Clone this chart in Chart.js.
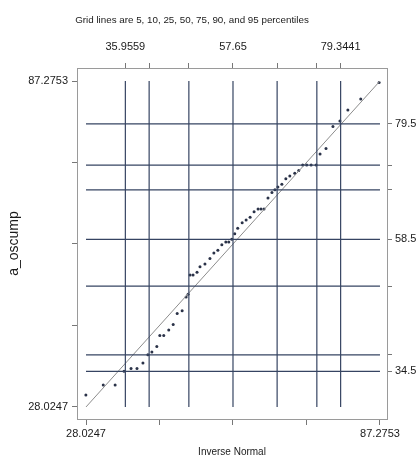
<!DOCTYPE html>
<html>
<head>
<meta charset="utf-8">
<script src="https://cdn.jsdelivr.net/npm/chart.js@4"></script>
<style>
  html, body { margin: 0; padding: 0; background: #fff; }
  #wrap { width: 418px; height: 457px; }
</style>
</head>
<body>
<div id="wrap"><canvas id="qq"></canvas></div>
<script>
// data range (min / max shown on the bottom and left axes)
const RANGE = [28.0247, 87.2753];
const EDGE_TICKS = [28.0247, 42.8374, 57.65, 72.4626, 87.2753];
const EDGE_LABELS = ['28.0247', '', '', '', '87.2753'];

// normal percentiles 5,10,25,50,75,90,95 (top axis)
const NORM_PCT = [35.9559, 40.75, 48.755, 57.65, 66.545, 74.55, 79.3441];
const NORM_LABELS = ['35.9559', '', '', '57.65', '', '', '79.3441'];

// data percentiles (right axis)
const DATA_PCT = [34.5, 37.5, 50, 58.5, 67.5, 72, 79.5];
const DATA_LABELS = ['34.5', '', '', '58.5', '', '', '79.5'];

// inverse normal (x) vs sorted a_oscump (y)
const INV_NORMAL = [28.0, 31.5, 33.9, 35.7, 37.1, 38.3, 39.5, 40.5, 41.3, 42.3,
  42.9, 43.7, 44.7, 45.6, 46.4, 47.4, 48.2, 48.6, 49.0, 49.6,
  50.4, 51.0, 52.0, 53.0, 53.8, 54.6, 55.4, 56.2, 56.8, 57.4,
  58.0, 58.6, 59.5, 60.3, 61.1, 61.9, 62.7, 63.3, 63.9, 64.7,
  65.5, 66.1, 66.7, 67.5, 68.3, 69.1, 70.1, 70.9, 71.7, 72.5,
  73.4, 74.4, 75.2, 76.4, 77.8, 79.2, 80.8, 83.4, 87.1];
const A_OSCUMP = [30.2, 32, 32, 34.5, 35, 35, 36, 37.5, 38, 39,
  41, 41, 42, 43, 45, 45.5, 48, 48.5, 52, 52,
  52.5, 53.5, 54, 55, 56, 56.5, 57.5, 58, 58, 58.5,
  59.5, 60.5, 61.5, 62, 62.5, 63.5, 64, 64, 64, 66,
  67, 67.5, 68, 68.5, 69.5, 70, 70.5, 71, 72, 72,
  72, 72, 74, 75, 79, 80, 82, 84, 87];

const GRID_COLOR = '#364462';
const FONT = '"Liberation Sans", Arial, sans-serif';

const datasets = [];
NORM_PCT.forEach(p => datasets.push({
  data: [{x: p, y: RANGE[0]}, {x: p, y: RANGE[1]}],
  showLine: true, pointRadius: 0, borderColor: GRID_COLOR, borderWidth: 1.2
}));
DATA_PCT.forEach(p => datasets.push({
  data: [{x: RANGE[0], y: p}, {x: RANGE[1], y: p}],
  showLine: true, pointRadius: 0, borderColor: GRID_COLOR, borderWidth: 1.2
}));
datasets.push({
  data: [{x: RANGE[0], y: RANGE[0]}, {x: RANGE[1], y: RANGE[1]}],
  showLine: true, pointRadius: 0, borderColor: '#8c8c8c', borderWidth: 1
});
datasets.push({
  data: INV_NORMAL.map((x, i) => ({x, y: A_OSCUMP[i]})),
  pointRadius: 1.5, pointBackgroundColor: '#2a3248', pointBorderWidth: 0
});

// header text above the plot
const headerText = {
  id: 'headerText',
  afterDraw(chart) {
    const {ctx} = chart;
    ctx.save();
    ctx.fillStyle = '#1a1a1a';
    ctx.font = '9.8px ' + FONT;
    ctx.textAlign = 'center';
    ctx.textBaseline = 'middle';
    ctx.fillText('Grid lines are 5, 10, 25, 50, 75, 90, and 95 percentiles', 192, 20);
    ctx.restore();
  }
};

function axis(position, min, max, values, labels, extra) {
  return Object.assign({
    type: 'linear', position, min, max,
    afterBuildTicks: s => { s.ticks = values.map(v => ({value: v})); },
    ticks: {
      autoSkip: false, maxRotation: 0, color: '#1a1a1a',
      font: {family: FONT, size: 11},
      callback: (v, i) => labels[i]
    },
    grid: {drawOnChartArea: false, drawTicks: true, tickLength: 5, color: '#777'},
    border: {display: true, color: '#9a9a9a', width: 1}
  }, extra);
}

const XMIN = 26.21, XMAX = 88.69, YMIN = 25.84, YMAX = 89.64;

const scales = {
  x: axis('bottom', XMIN, XMAX, EDGE_TICKS, EDGE_LABELS, {
    title: {display: true, text: 'Inverse Normal', color: '#1a1a1a',
      font: {family: FONT, size: 10, lineHeight: 1}, padding: 0},
    afterFit: s => { s.height = 38; }
  }),
  x2: axis('top', XMIN, XMAX, NORM_PCT, NORM_LABELS, {
    afterFit: s => { s.height = 36; }
  }),
  y: axis('left', YMIN, YMAX, EDGE_TICKS, EDGE_LABELS, {
    title: {display: true, text: 'a_oscump', color: '#1a1a1a',
      font: {family: FONT, size: 14, lineHeight: 1}, padding: {top: 7, bottom: 0}},
    afterFit: s => { s.width = 77; }
  }),
  y2: axis('right', YMIN, YMAX, DATA_PCT, DATA_LABELS, {
    afterFit: s => { s.width = 31; }
  })
};
scales.x.ticks.padding = 2;
scales.x.grid.tickLength = 6;
scales.x2.ticks.padding = 9;
scales.y.ticks.padding = 4;
scales.y2.ticks.padding = 3;

new Chart(document.getElementById('qq'), {
  type: 'scatter',
  data: {datasets},
  options: {
    responsive: true,
    maintainAspectRatio: false,
    animation: false,
    layout: {padding: {top: 32, left: 0, right: 0, bottom: 0}},
    plugins: {legend: {display: false}, tooltip: {enabled: false}},
    scales
  },
  plugins: [headerText]
});
</script>
</body>
</html>
